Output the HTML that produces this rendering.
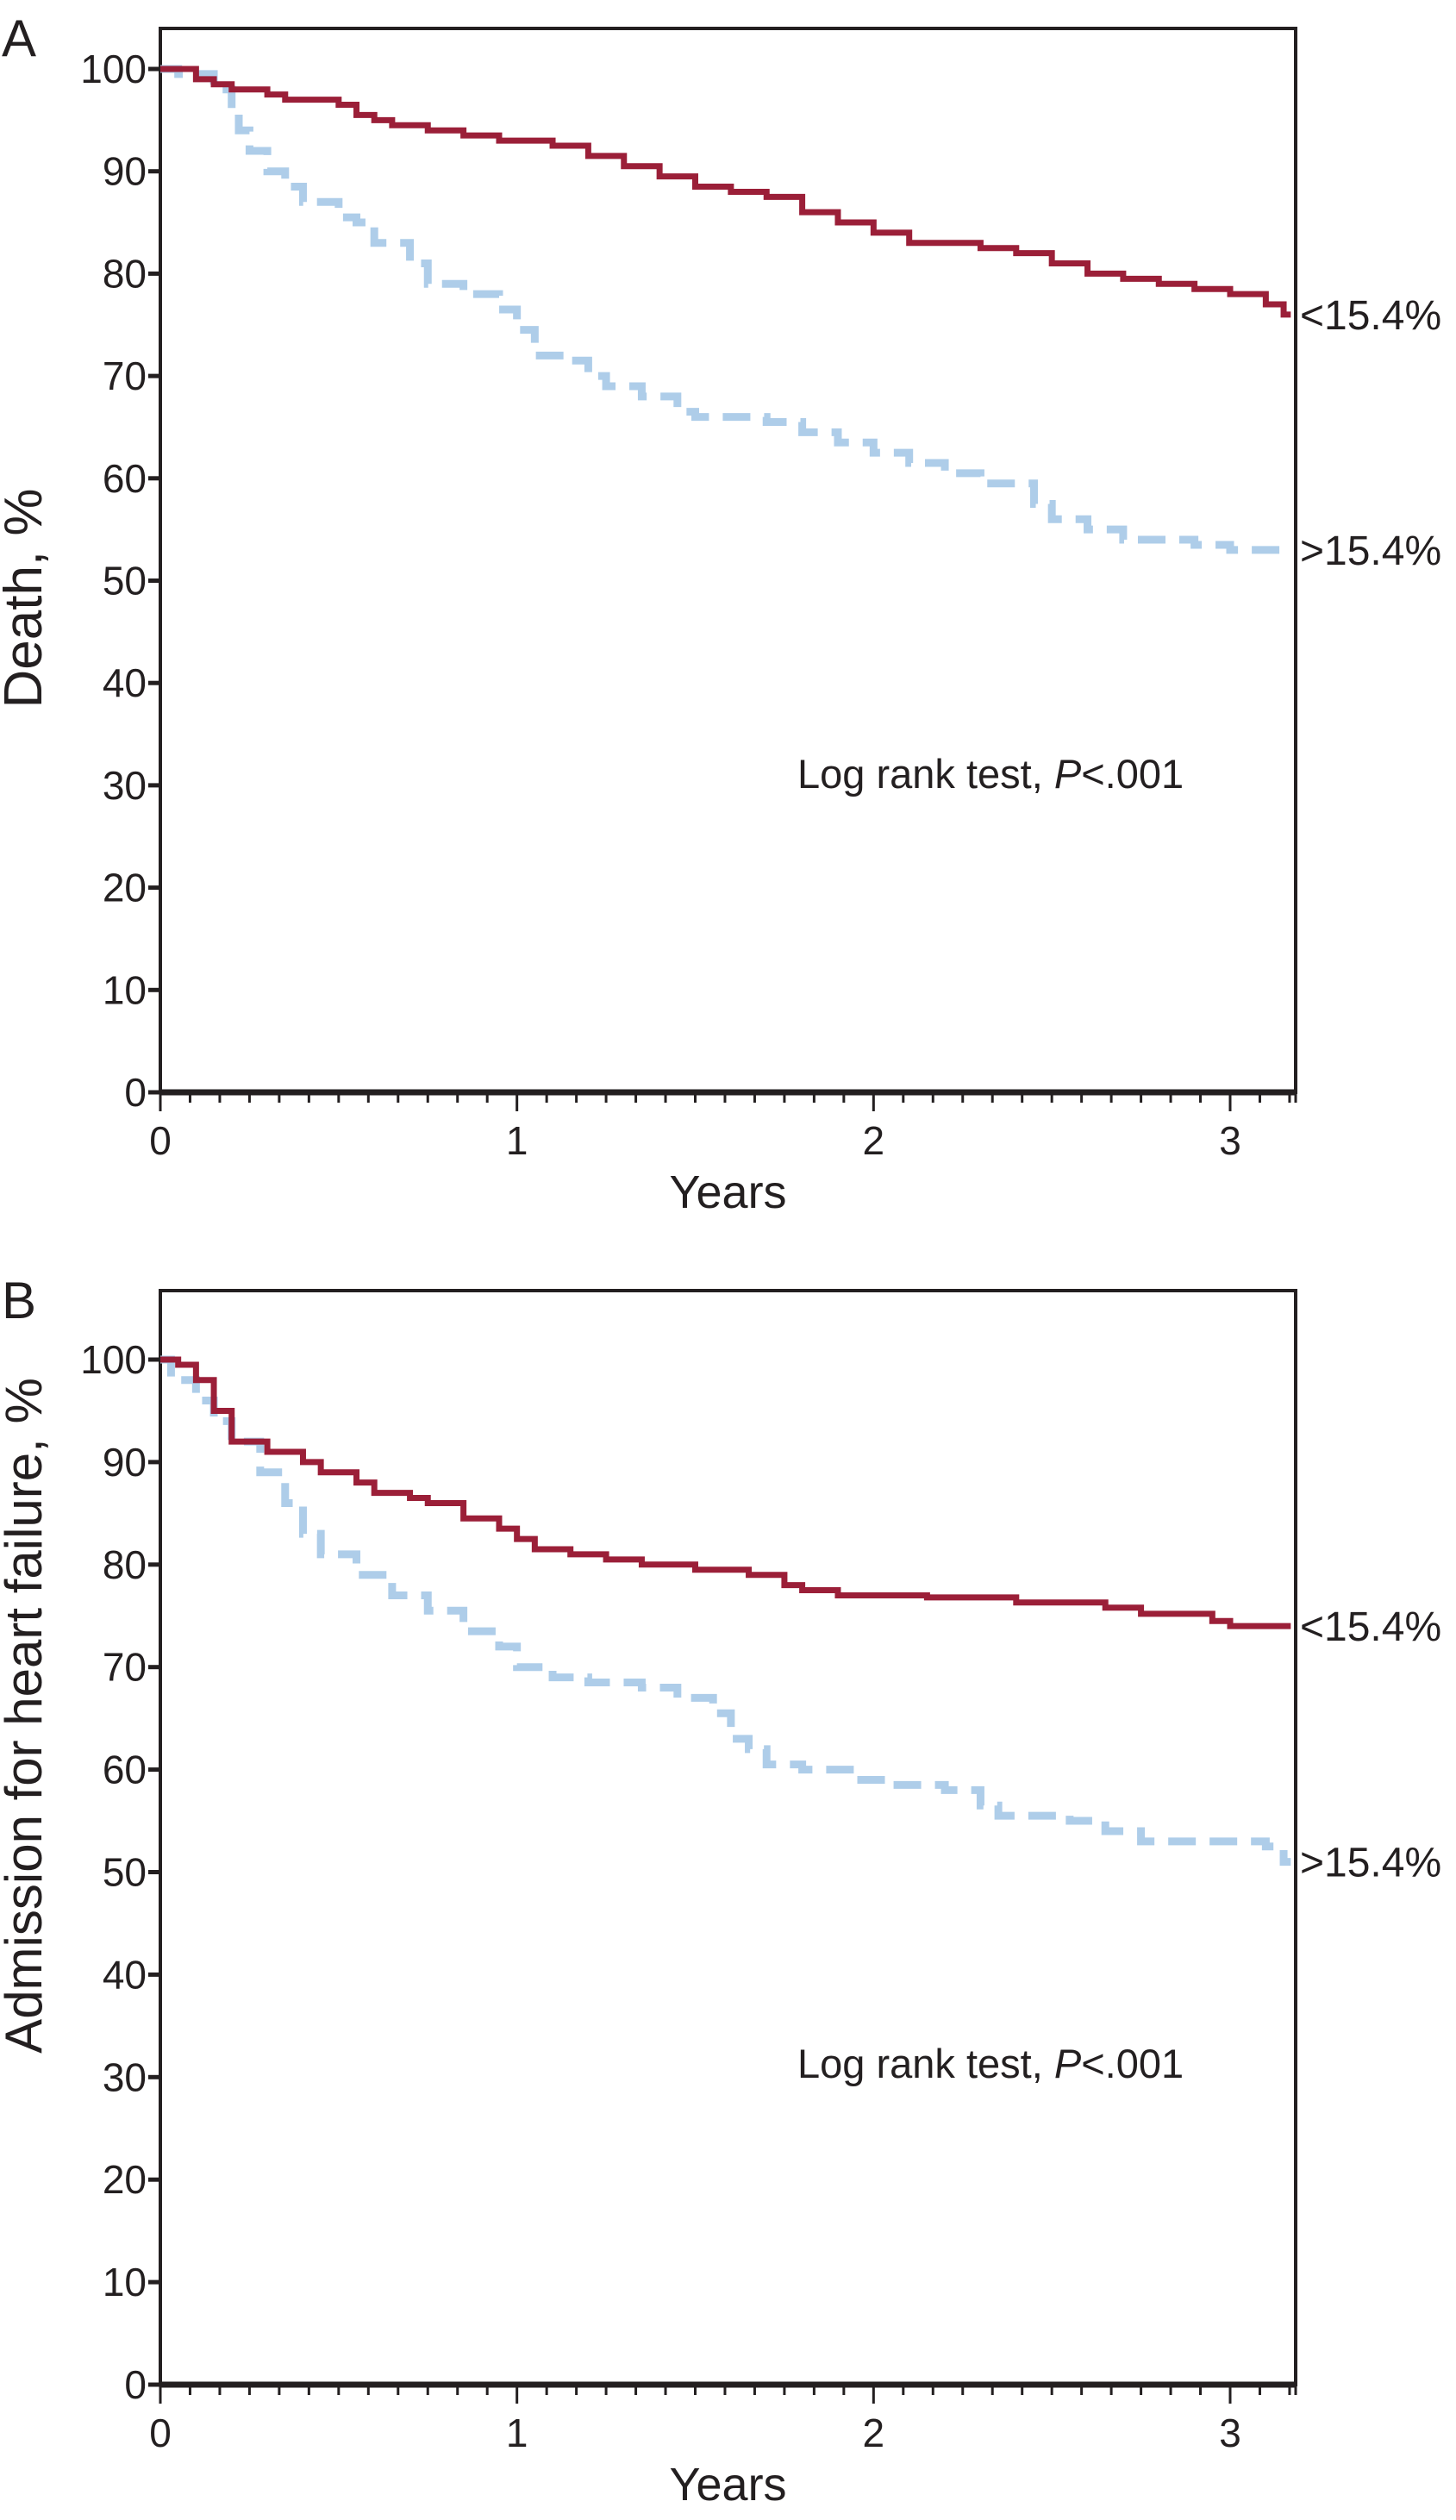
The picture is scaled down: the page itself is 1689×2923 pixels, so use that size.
<!DOCTYPE html>
<html><head><meta charset="utf-8"><style>
html,body{margin:0;padding:0;background:#fff;}
svg{display:block;font-family:"Liberation Sans",sans-serif;}
</style></head><body>
<svg id="fig" width="1689" height="2923" viewBox="0 0 1689 2923"></svg>
<script>
// Panel A data (years, survival %)
const aRedX=[0,0.05,0.1,0.15,0.2,0.3,0.35,0.5,0.55,0.6,0.65,0.75,0.85,0.95,1.1,1.2,1.3,1.4,1.5,1.6,1.7,1.8,1.9,2.0,2.1,2.3,2.4,2.5,2.6,2.7,2.8,2.9,3.0,3.1,3.15];
const aRedY=[100,100,99,98.5,98,97.5,97,96.5,95.5,95,94.5,94,93.5,93,92.5,91.5,90.5,89.5,88.5,88,87.5,86,85,84,83,82.5,82,81,80,79.5,79,78.5,78,77,76];
const aBlueX=[0,0.05,0.15,0.2,0.22,0.25,0.3,0.35,0.4,0.5,0.55,0.6,0.7,0.75,0.85,0.95,1.0,1.05,1.15,1.2,1.25,1.35,1.45,1.5,1.7,1.8,1.9,2.0,2.1,2.2,2.3,2.45,2.5,2.6,2.7,2.9,3.0];
const aBlueY=[100,99.5,98,96,94,92,90,88.5,87,85.5,85,83,81,79,78,76.5,74.5,72,71.5,70,69,68,66.5,66,65.5,64.5,63.5,62.5,61.5,60.5,59.5,57.5,56,55,54,53.5,53];
// Panel B data
const bRedX=[0,0.05,0.1,0.15,0.2,0.3,0.4,0.45,0.55,0.6,0.7,0.75,0.85,0.95,1.0,1.05,1.15,1.25,1.35,1.5,1.65,1.75,1.8,1.9,2.15,2.4,2.65,2.75,2.95,3.0];
const bRedY=[100,99.5,98,95,92,91,90,89,88,87,86.5,86,84.5,83.5,82.5,81.5,81,80.5,80,79.5,79,78,77.5,77,76.8,76.3,75.8,75.2,74.5,74];
const bBlueX=[0,0.03,0.1,0.15,0.2,0.28,0.35,0.4,0.45,0.55,0.65,0.75,0.85,0.95,1.0,1.1,1.2,1.35,1.45,1.55,1.6,1.65,1.7,1.8,1.95,2.05,2.2,2.3,2.35,2.55,2.65,2.75,3.1,3.15];
const bBlueY=[100,98,96,94,92,89,86,83,81,79,77,75.5,73.5,72,70,69,68.5,68,67,65.5,63,62,60.5,60,59,58.5,58,56.5,55.5,55,54,53,52.5,51];
const yTicks=[0,10,20,30,40,50,60,70,80,90,100];
const xTicks=[0,1,2,3];
const XMAX=3.17;

const NS="http://www.w3.org/2000/svg";
const svg=document.getElementById('fig');
function el(tag,attrs,parent){const e=document.createElementNS(NS,tag);for(const k in attrs)e.setAttribute(k,attrs[k]);(parent||svg).appendChild(e);return e;}

function panel(cfg){
  const g=el('g',{});
  
  
  const x0=186,x1=1503,top=cfg.top,y100=cfg.y100,y0=cfg.y0;
  const sx=v=>x0+v*(1427-186)/3;
  const sy=v=>y0-(y0-y100)*v/100;
  const frame=el('rect',{x:x0,y:top,width:x1-x0,height:y0-top,fill:'none',stroke:'#231f20','stroke-width':4},g);
  
  
  el('line',{x1:x0,y1:y0,x2:x1,y2:y0,stroke:'#231f20','stroke-width':7},g);
  yTicks.forEach(v=>{
    el('line',{x1:x0-14,y1:sy(v),x2:x0,y2:sy(v),stroke:'#231f20','stroke-width':5},g);
    const t=el('text',{x:x0-16,y:sy(v)+16,'font-size':46,'text-anchor':'end',fill:'#231f20'},g);
    t.textContent=v;
    
    
  });
  for(let m=1;m<=38;m++){
    const v=m/12; if(v>XMAX) break;
    if(m%12===0) continue;
    el('line',{x1:sx(v),y1:y0,x2:sx(v),y2:y0+12,stroke:'#231f20','stroke-width':3},g);
  }
  el('line',{x1:x1,y1:y0,x2:x1,y2:y0+12,stroke:'#231f20','stroke-width':3},g);
  xTicks.forEach(v=>{
    el('line',{x1:sx(v),y1:y0,x2:sx(v),y2:y0+22,stroke:'#231f20','stroke-width':3},g);
    const t=el('text',{x:sx(v),y:y0+72,'font-size':46,'text-anchor':'middle',fill:'#231f20'},g);
    t.textContent=v;
    
    
  });
  const xt=el('text',{x:(x0+x1)/2,y:y0+134,'font-size':54,'text-anchor':'middle',fill:'#231f20'},g);
  xt.textContent='Years';
  
  
  const yt=el('text',{x:0,y:0,'font-size':cfg.ytSize,'text-anchor':'middle',fill:'#231f20',transform:`translate(48,${cfg.ytY}) rotate(-90)`},g);
  yt.textContent=cfg.ytitle;
  
  
  const pl=el('text',{x:2,y:top+32,'font-size':60,fill:'#231f20'},g);
  pl.textContent=cfg.label;
  
  
  function step(xs,ys,end){
    let d=`M${sx(xs[0])},${sy(ys[0])}`;
    for(let i=1;i<xs.length;i++){d+=` H${sx(xs[i])} V${sy(ys[i])}`;}
    d+=` H${sx(end)}`;return d;
  }
  const blue=el('path',{d:step(cfg.bx,cfg.by,XMAX),fill:'none',stroke:'#aecde9','stroke-width':9,'stroke-dasharray':'32 16'},g);
  
  
  const red=el('path',{d:step(cfg.rx,cfg.ry,XMAX),fill:'none',stroke:'#9b1f38','stroke-width':7},g);
  
  
  const l1=el('text',{x:1508,y:sy(cfg.ry[cfg.ry.length-1])+17,'font-size':48,fill:'#231f20'},g);
  l1.textContent='<15.4%';
  
  
  const l2=el('text',{x:1508,y:sy(cfg.by[cfg.by.length-1])+17,'font-size':48,fill:'#231f20'},g);
  l2.textContent='>15.4%';
  
  
  const lr=el('text',{x:925,y:cfg.lrY,'font-size':47,fill:'#231f20'},g);
  lr.innerHTML='Log rank test, <tspan font-style="italic">P</tspan>&lt;.001';
  
  
}
panel({name:'panel-a-death',label:'A',top:33,y100:80,y0:1267,ytitle:'Death, %',ytSize:62,ytY:694,rx:aRedX,ry:aRedY,bx:aBlueX,by:aBlueY,lrY:914});
panel({name:'panel-b-heart-failure',label:'B',top:1497,y100:1577,y0:2766,ytitle:'Admission for heart failure, %',ytSize:60,ytY:1990,rx:bRedX,ry:bRedY,bx:bBlueX,by:bBlueY,lrY:2410});
</script>
</body></html>
